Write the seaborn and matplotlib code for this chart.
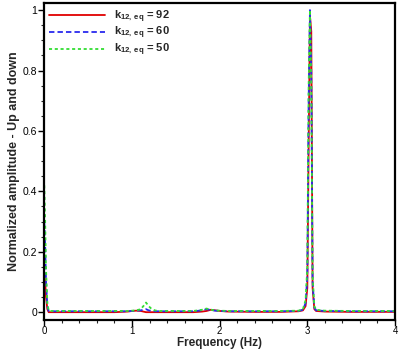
import numpy as np
import pandas as pd
import seaborn as sns
import matplotlib.pyplot as plt
from matplotlib.ticker import MultipleLocator, FuncFormatter

# Spectrum sample points (Hz)
freq = [0.0, 0.01, 0.02, 0.035, 0.05, 0.07, 0.1, 0.2, 0.4, 0.6, 0.8, 0.95, 1.0,
        1.05, 1.1, 1.13, 1.16, 1.19, 1.22, 1.26, 1.3, 1.5, 1.7, 1.8, 1.85, 1.9,
        1.95, 2.0, 2.1, 2.4, 2.7, 2.9, 2.95, 2.98, 3.0, 3.015, 3.03, 3.045,
        3.06, 3.08, 3.1, 3.2, 3.5, 3.8, 4.0]

amp_92 = [0.13, 0.10, 0.05, 0.01, 0.0, 0.0, 0.0, 0.0, 0.0, 0.0, 0.0, 0.002, 0.004,
          0.005, 0.004, 0.002, 0.0, 0.0, 0.0, 0.0, 0.0, 0.0, 0.0, 0.002, 0.004, 0.008,
          0.006, 0.004, 0.002, 0.001, 0.001, 0.003, 0.006, 0.02, 0.08, 0.55, 0.98, 0.93,
          0.08, 0.01, 0.004, 0.002, 0.001, 0.001, 0.001]
amp_60 = [0.30, 0.22, 0.10, 0.02, 0.004, 0.003, 0.003, 0.003, 0.003, 0.003, 0.003, 0.003, 0.004,
          0.005, 0.006, 0.008, 0.01, 0.006, 0.004, 0.003, 0.003, 0.003, 0.003, 0.006, 0.01, 0.007,
          0.005, 0.004, 0.003, 0.003, 0.003, 0.004, 0.008, 0.03, 0.12, 0.7, 1.0, 0.8,
          0.1, 0.015, 0.006, 0.004, 0.003, 0.003, 0.003]
amp_50 = [0.42, 0.30, 0.14, 0.03, 0.006, 0.004, 0.004, 0.004, 0.004, 0.004, 0.004, 0.004, 0.005,
          0.006, 0.01, 0.02, 0.032, 0.02, 0.012, 0.006, 0.004, 0.004, 0.004, 0.008, 0.012, 0.008,
          0.006, 0.005, 0.004, 0.004, 0.004, 0.005, 0.01, 0.04, 0.15, 0.75, 1.0, 0.75,
          0.12, 0.02, 0.008, 0.005, 0.004, 0.004, 0.004]

labels = [r"k$_{\mathregular{12,\,eq}}$ = 92",
          r"k$_{\mathregular{12,\,eq}}$ = 60",
          r"k$_{\mathregular{12,\,eq}}$ = 50"]
colors = ["#e00000", "#2a2aee", "#33dd33"]
dashes = [(None, None), (3, 1.7), (1.7, 1.5)]

sns.set_style("ticks")
plt.rcParams["font.family"] = ["Liberation Sans", "DejaVu Sans"]
plt.rcParams["mathtext.fontset"] = "custom"
plt.rcParams["mathtext.rm"] = "Liberation Sans:bold"

fig = plt.figure(figsize=(3.99, 3.49), dpi=100)
ax = fig.add_axes([0.111, 0.083, 0.879, 0.908])

for amp, lab, col, ds in zip([amp_92, amp_60, amp_50], labels, colors, dashes):
    df = pd.DataFrame({"freq": freq, "amp": amp})
    sns.lineplot(data=df, x="freq", y="amp", ax=ax, color=col, lw=1.3,
                 label=lab, estimator=None, sort=False)
    if ds[0] is not None:
        ax.lines[-1].set_dashes(ds)

ax.set_xlim(0, 4)
ax.set_ylim(-0.026, 1.023)
ax.xaxis.set_major_locator(MultipleLocator(1))
ax.xaxis.set_minor_locator(MultipleLocator(0.2))
ax.yaxis.set_major_locator(MultipleLocator(0.2))
ax.yaxis.set_minor_locator(MultipleLocator(0.05))
ax.yaxis.set_major_formatter(FuncFormatter(lambda v, p: f"{v:g}"))
ax.tick_params(which="major", length=4, width=1, labelsize=7.5, pad=1, colors="black")
ax.tick_params(axis="x", which="major", labelsize=7, pad=0.5)
ax.tick_params(which="minor", length=2.5, width=0.8)
ax.tick_params(top=False, right=False)
for sp in ax.spines.values():
    sp.set_linewidth(1.6)
    sp.set_color("black")

ax.set_xlabel("Frequency (Hz)", fontsize=8.5, fontweight="bold")
ax.xaxis.set_label_coords(0.5, -0.053, transform=ax.transAxes)
ax.xaxis.label.set_va("top")
ax.set_ylabel("Normalized amplitude - Up and down", fontsize=9, fontweight="bold", labelpad=2)

leg = ax.legend(loc="upper left", frameon=False, handlelength=5,
                handletextpad=0.8, labelspacing=0.05, borderaxespad=0.35,
                borderpad=0.1, prop={"weight": "bold", "size": 8})

fig.savefig("out.png", dpi=100)
